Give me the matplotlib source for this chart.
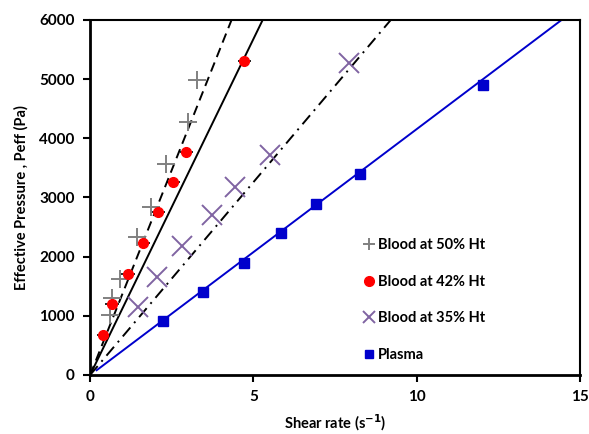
import numpy as np
import matplotlib
matplotlib.use("Agg")
import matplotlib.pyplot as plt

plt.rcParams['font.family'] = ['Lato', 'DejaVu Sans']
plt.rcParams['font.weight'] = 'bold'

ht50_x = [0.61, 0.67, 0.92, 1.45, 1.85, 2.33, 3.0, 3.28]
ht50_y = [1010, 1300, 1620, 2330, 2840, 3570, 4270, 4980]
ht42_x = [0.40, 0.67, 1.16, 1.63, 2.09, 2.55, 2.94, 4.72]
ht42_y = [680, 1200, 1710, 2230, 2750, 3260, 3770, 5300]
ht35_x = [1.47, 2.05, 2.82, 3.74, 4.45, 5.52, 7.91]
ht35_y = [1150, 1650, 2180, 2700, 3180, 3720, 5270]
plasma_x = [2.24, 3.47, 4.72, 5.83, 6.90, 8.25, 12.02]
plasma_y = [910, 1400, 1900, 2400, 2890, 3400, 4900]

# slopes of the trend lines (Pa per s^-1)
slope50 = 1386
slope42 = 1136
slope35 = 652
slope_plasma = 416
plasma_start = 0.2

fig = plt.figure(figsize=(5.89, 4.34), dpi=100)
ax = fig.add_axes([0.153, 0.136, 0.832, 0.818])

xs = np.array([0, 15])
ax.plot(xs, slope50 * xs, color='black', ls=(0, (5, 3)), lw=1.4, zorder=2)
ax.plot(xs, slope42 * xs, color='black', ls='-', lw=1.4, zorder=2)
ax.plot(xs, slope35 * xs, color='black', ls=(0, (6, 3, 1, 3)), lw=1.4, zorder=2)
xp = np.array([plasma_start, 15])
ax.plot(xp, slope_plasma * (xp - plasma_start) + 80, color='#0000CC', lw=1.4, zorder=2)

ax.errorbar(ht42_x, ht42_y, xerr=0.2, fmt='none', ecolor='black', elinewidth=1.2, capsize=0, zorder=2)

ax.plot(ht50_x, ht50_y, ls='none', marker='+', ms=13, mew=1.4, color='#808080',
        label='Blood at 50% Ht', zorder=3)
ax.plot(ht42_x, ht42_y, ls='none', marker='o', ms=7, color='#FF0000',
        label='Blood at 42% Ht', zorder=3)
ax.plot(ht35_x, ht35_y, ls='none', marker='x', ms=15, mew=1.4, color='#8064A2',
        label='Blood at 35% Ht', zorder=3)
ax.plot(plasma_x, plasma_y, ls='none', marker='s', ms=6.5, color='#0000CC',
        label='Plasma', zorder=3)

ax.set_xlim(0, 15)
ax.set_ylim(0, 6000)
ax.set_xticks([0, 5, 10, 15])
ax.set_yticks(range(0, 6001, 1000))
ax.tick_params(direction='out', length=5, width=1.5, labelsize=11, pad=6)
for lab in ax.get_xticklabels() + ax.get_yticklabels():
    lab.set_fontweight('bold')
for s in ['left', 'bottom']:
    ax.spines[s].set_linewidth(2)
for s in ['top', 'right']:
    ax.spines[s].set_linewidth(1.5)

ax.set_xlabel('Shear rate (s$^{\\mathbf{-1}}$)', fontsize=10.5, fontweight='bold', labelpad=6)
ax.set_ylabel('Effective Pressure , Peff (Pa)', fontsize=10.5, fontweight='bold', labelpad=8)

leg = ax.legend(loc='lower left', bbox_to_anchor=(0.53, 0.0), frameon=False,
                fontsize=10.5, labelspacing=1.55, handlelength=0.8, handletextpad=0.2)
for t in leg.get_texts():
    t.set_fontweight('bold')
for h, ms in zip(leg.legend_handles, [9, 7, 8, 6]):
    h.set_markersize(ms)

fig.savefig('out.png', dpi=100)
